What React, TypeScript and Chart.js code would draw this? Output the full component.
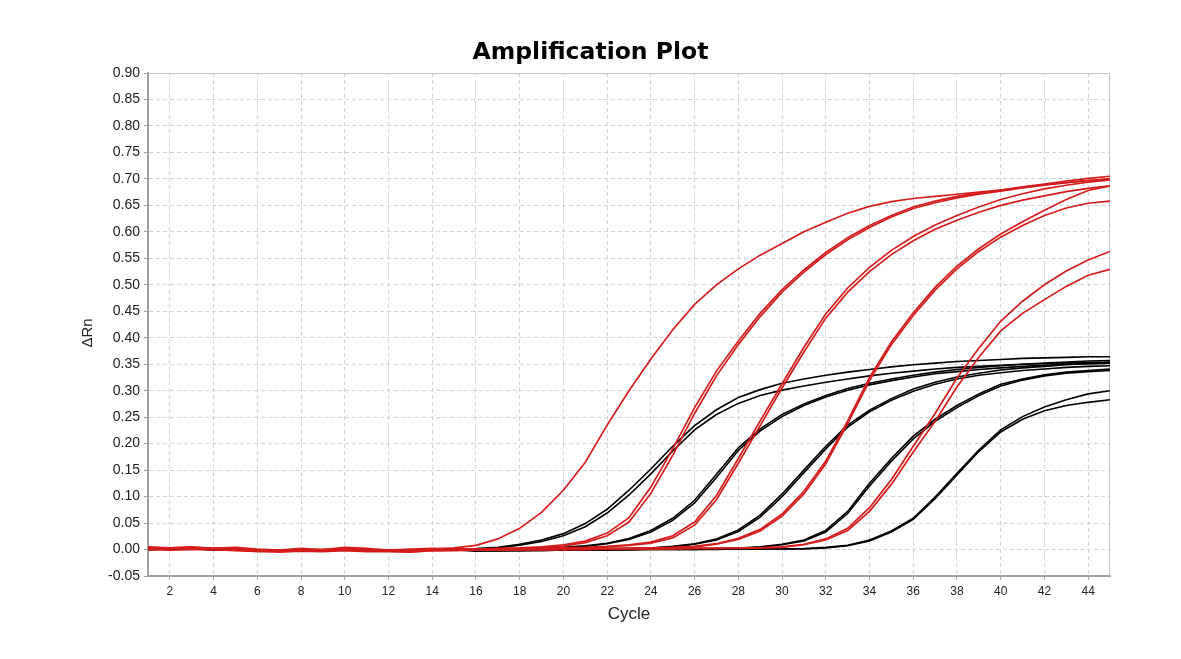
import React, { useEffect, useRef } from 'react';
import { Chart, registerables } from 'chart.js';

Chart.register(...registerables);

const CYCLES = [
  1, 2, 3, 4, 5, 6, 7, 8, 9, 10, 11, 12, 13, 14, 15, 16, 17, 18, 19, 20, 21, 22, 23,
  24, 25, 26, 27, 28, 29, 30, 31, 32, 33, 34, 35, 36, 37, 38, 39, 40, 41, 42, 43, 44, 45,
];
const X_TICKS = [2, 4, 6, 8, 10, 12, 14, 16, 18, 20, 22, 24, 26, 28, 30, 32, 34, 36, 38, 40, 42, 44];
const Y_TICKS = [
  -0.05, 0, 0.05, 0.1, 0.15, 0.2, 0.25, 0.3, 0.35, 0.4, 0.45, 0.5, 0.55, 0.6, 0.65, 0.7, 0.75, 0.8, 0.85, 0.9,
];

// ---- red samples (cycles 1..45) ----
const RED_1 = [
  0.003, 0.003, 0.004, 0.002, 0.002, -0.001, -0.001, 0.0, 0.0, 0.002, 0.0, -0.002, -0.001, 0.001, 0.003,
  0.008, 0.02, 0.04, 0.07, 0.112, 0.165, 0.235, 0.3, 0.36, 0.415,
  0.463, 0.5, 0.53, 0.556, 0.578, 0.6, 0.618, 0.635, 0.648, 0.657,
  0.663, 0.667, 0.671, 0.675, 0.679, 0.684, 0.689, 0.693, 0.697, 0.7,
];
const RED_2A = [
  0.002, 0.002, 0.003, 0.001, 0.001, -0.002, -0.002, -0.001, -0.001, 0.001, -0.001, -0.003, -0.002, 0.0, 0.0,
  0.001, 0.002, 0.003, 0.005, 0.009, 0.016, 0.031, 0.06, 0.118, 0.19,
  0.268, 0.337, 0.394, 0.446, 0.491, 0.528, 0.561, 0.589, 0.612, 0.631,
  0.647, 0.658, 0.667, 0.673, 0.679, 0.685, 0.69, 0.696, 0.701, 0.705,
];
const RED_2B = [
  0.001, 0.003, 0.002, 0.002, 0.0, -0.003, -0.001, -0.002, 0.0, 0.0, -0.002, -0.002, -0.003, -0.001, 0.001,
  0.001, 0.001, 0.002, 0.004, 0.007, 0.013, 0.026, 0.052, 0.106, 0.178,
  0.257, 0.328, 0.387, 0.44, 0.486, 0.524, 0.557, 0.585, 0.608, 0.628,
  0.644, 0.655, 0.664, 0.671, 0.677, 0.683, 0.688, 0.693, 0.697, 0.7,
];
const RED_3A = [
  0.005, 0.003, 0.005, 0.002, 0.004, 0.001, -0.001, 0.002, 0.0, 0.004, 0.002, -0.001, 0.001, 0.002, 0.001,
  0.001, 0.001, 0.001, 0.002, 0.003, 0.004, 0.006, 0.009, 0.014, 0.026,
  0.052, 0.102, 0.172, 0.243, 0.313, 0.382, 0.445, 0.494, 0.533, 0.565,
  0.591, 0.613, 0.631, 0.647, 0.661, 0.672, 0.681, 0.688, 0.694, 0.698,
];
const RED_3B = [
  0.002, 0.002, 0.002, 0.001, 0.0, -0.002, -0.002, -0.001, -0.001, 0.0, -0.001, -0.002, -0.002, 0.001, 0.0,
  0.0, 0.0, 0.001, 0.001, 0.002, 0.003, 0.005, 0.008, 0.012, 0.022,
  0.046, 0.094, 0.163, 0.234, 0.305, 0.373, 0.437, 0.486, 0.525, 0.557,
  0.583, 0.605, 0.622, 0.637, 0.65, 0.66, 0.668, 0.676, 0.682, 0.687,
];
const RED_4A = [
  0.001, 0.002, 0.003, 0.001, 0.001, -0.002, -0.002, -0.002, -0.001, 0.001, -0.001, -0.003, -0.002, -0.001, 0.0,
  0.0, 0.0, 0.0, 0.001, 0.001, 0.001, 0.002, 0.002, 0.003, 0.004,
  0.006, 0.011, 0.021, 0.038, 0.067, 0.11, 0.167, 0.243, 0.325, 0.392,
  0.447, 0.495, 0.535, 0.568, 0.596, 0.619, 0.641, 0.661, 0.678, 0.687,
];
const RED_4B = [
  0.0, -0.001, 0.0, 0.0, -0.002, -0.003, -0.005, -0.003, -0.004, -0.002, -0.004, -0.004, -0.005, -0.002, -0.002,
  -0.001, -0.001, 0.0, 0.0, 0.001, 0.001, 0.001, 0.002, 0.002, 0.003,
  0.005, 0.01, 0.019, 0.035, 0.063, 0.105, 0.162, 0.238, 0.319, 0.387,
  0.442, 0.49, 0.53, 0.563, 0.59, 0.612, 0.631, 0.645, 0.654, 0.658,
];
const RED_5A = [
  0.002, 0.003, 0.003, 0.002, 0.001, -0.002, -0.001, -0.001, -0.001, 0.001, 0.0, -0.003, -0.002, 0.0, 0.0,
  0.0, 0.0, 0.0, 0.0, 0.0, 0.001, 0.001, 0.001, 0.001, 0.002,
  0.002, 0.002, 0.003, 0.003, 0.005, 0.01, 0.02, 0.04, 0.079, 0.132,
  0.195, 0.257, 0.324, 0.38, 0.431, 0.469, 0.5, 0.526, 0.547, 0.563,
];
const RED_5B = [
  0.0, 0.001, 0.001, 0.0, -0.001, -0.004, -0.003, -0.003, -0.001, -0.001, -0.002, -0.003, -0.004, -0.002, -0.001,
  -0.001, -0.001, 0.0, 0.0, 0.0, 0.0, 0.001, 0.001, 0.001, 0.001,
  0.002, 0.002, 0.002, 0.003, 0.004, 0.009, 0.018, 0.036, 0.072, 0.123,
  0.184, 0.242, 0.307, 0.363, 0.413, 0.446, 0.472, 0.497, 0.518, 0.529,
];

// ---- black samples (cycles 1..45) ----
const BLACK_1A = [
  0.001, 0.002, 0.002, 0.001, 0.0, -0.002, -0.002, -0.001, -0.001, 0.001, -0.001, -0.002, -0.002, 0.0, 0.001,
  0.002, 0.004, 0.01, 0.018, 0.03, 0.049, 0.076, 0.112, 0.152, 0.195,
  0.234, 0.264, 0.287, 0.302, 0.314, 0.322, 0.329, 0.335, 0.34, 0.345,
  0.349, 0.352, 0.355, 0.357, 0.359, 0.361, 0.362, 0.363, 0.364, 0.364,
];
const BLACK_1B = [
  0.0, 0.002, 0.001, 0.001, -0.001, -0.002, -0.002, -0.002, -0.001, 0.0, -0.002, -0.002, -0.002, -0.001, 0.0,
  0.001, 0.003, 0.008, 0.015, 0.026, 0.043, 0.069, 0.103, 0.143, 0.186,
  0.226, 0.255, 0.276, 0.291, 0.301, 0.309, 0.316, 0.322, 0.328, 0.333,
  0.337, 0.341, 0.344, 0.346, 0.348, 0.35, 0.351, 0.352, 0.353, 0.354,
];
const BLACK_2A = [
  0.001, 0.002, 0.002, 0.0, 0.0, -0.002, -0.002, -0.001, -0.001, 0.001, -0.001, -0.002, -0.002, -0.001, 0.0,
  0.0, 0.001, 0.001, 0.002, 0.004, 0.007, 0.012, 0.021, 0.036, 0.059,
  0.093, 0.142, 0.192, 0.228, 0.255, 0.275, 0.291, 0.304, 0.314, 0.322,
  0.329, 0.335, 0.34, 0.344, 0.347, 0.35, 0.352, 0.354, 0.356, 0.357,
];
const BLACK_2B = [
  0.0, 0.001, 0.002, 0.001, -0.001, -0.002, -0.002, -0.001, -0.002, 0.0, -0.001, -0.002, -0.002, -0.001, 0.0,
  0.0, 0.0, 0.001, 0.002, 0.003, 0.006, 0.011, 0.019, 0.033, 0.055,
  0.088, 0.136, 0.187, 0.224, 0.251, 0.272, 0.288, 0.301, 0.311, 0.319,
  0.326, 0.332, 0.336, 0.34, 0.343, 0.346, 0.348, 0.35, 0.351, 0.352,
];
const BLACK_3A = [
  0.001, 0.001, 0.002, 0.0, 0.0, -0.002, -0.002, -0.002, -0.001, 0.0, -0.001, -0.002, -0.002, -0.001, -0.001,
  -0.001, -0.001, 0.0, 0.0, 0.001, 0.001, 0.002, 0.002, 0.003, 0.006,
  0.011, 0.02, 0.037, 0.065, 0.105, 0.15, 0.195, 0.235, 0.263, 0.285,
  0.303, 0.316, 0.326, 0.333, 0.339, 0.343, 0.346, 0.349, 0.351, 0.352,
];
const BLACK_3B = [
  0.0, 0.001, 0.001, 0.0, -0.001, -0.002, -0.002, -0.001, -0.002, 0.0, -0.002, -0.002, -0.002, -0.001, -0.001,
  -0.001, -0.001, -0.001, 0.0, 0.0, 0.001, 0.001, 0.002, 0.003, 0.005,
  0.01, 0.018, 0.034, 0.061, 0.1, 0.145, 0.19, 0.231, 0.26, 0.282,
  0.299, 0.312, 0.322, 0.329, 0.334, 0.338, 0.341, 0.344, 0.346, 0.347,
];
const BLACK_4A = [
  0.001, 0.002, 0.001, 0.0, -0.001, -0.002, -0.002, -0.001, -0.001, 0.001, -0.002, -0.002, -0.002, -0.001, -0.001,
  -0.002, -0.001, -0.001, -0.001, 0.0, 0.0, 0.0, 0.001, 0.001, 0.001,
  0.002, 0.002, 0.003, 0.005, 0.01, 0.018, 0.036, 0.072, 0.125, 0.172,
  0.214, 0.246, 0.272, 0.294, 0.312, 0.322, 0.33, 0.335, 0.338, 0.341,
];
const BLACK_4B = [
  0.0, 0.001, 0.002, -0.001, 0.0, -0.002, -0.001, -0.002, -0.001, 0.0, -0.001, -0.002, -0.002, -0.001, 0.0,
  -0.002, -0.002, -0.001, -0.001, -0.001, 0.0, 0.0, 0.0, 0.001, 0.001,
  0.001, 0.002, 0.002, 0.004, 0.009, 0.016, 0.033, 0.068, 0.12, 0.167,
  0.209, 0.242, 0.268, 0.291, 0.309, 0.32, 0.328, 0.333, 0.336, 0.338,
];
const BLACK_5A = [
  0.001, 0.001, 0.002, 0.001, 0.0, -0.002, -0.002, -0.001, -0.001, 0.0, -0.001, -0.002, -0.002, -0.001, -0.001,
  -0.002, -0.002, -0.002, -0.001, -0.001, -0.001, -0.001, 0.0, 0.0, 0.0,
  0.0, 0.001, 0.001, 0.001, 0.001, 0.002, 0.004, 0.008, 0.018, 0.035,
  0.059, 0.099, 0.144, 0.188, 0.226, 0.251, 0.269, 0.283, 0.294, 0.3,
];
const BLACK_5B = [
  0.0, 0.001, 0.001, 0.0, -0.001, -0.002, -0.002, -0.002, -0.002, 0.0, -0.002, -0.002, -0.002, -0.001, 0.0,
  -0.002, -0.002, -0.002, -0.002, -0.001, -0.001, -0.001, -0.001, 0.0, 0.0,
  0.0, 0.0, 0.001, 0.001, 0.001, 0.001, 0.003, 0.007, 0.016, 0.033,
  0.057, 0.096, 0.141, 0.185, 0.222, 0.246, 0.262, 0.272, 0.278, 0.283,
];

const RED_SERIES = [RED_1, RED_2A, RED_2B, RED_3A, RED_3B, RED_4A, RED_4B, RED_5A, RED_5B];
const BLACK_SERIES = [
  BLACK_1A, BLACK_1B, BLACK_2A, BLACK_2B, BLACK_3A, BLACK_3B, BLACK_4A, BLACK_4B, BLACK_5A, BLACK_5B,
];

const TITLE = 'Amplification Plot';
const Y_TITLE = 'ΔRn';
const X_TITLE = 'Cycle';

const RED = '#d41c1c';
const BLACK = '#000000';
const GRID = '#d2d2d2';
const AXIS = '#a0a0a0';
const TEXT = '#222222';

const framePlugin = {
  id: 'frameAndTitle',
  beforeDatasetsDraw(chart: any) {
    const { ctx, chartArea: a } = chart;
    ctx.save();
    ctx.strokeStyle = '#c4c4c4';
    ctx.lineWidth = 1;
    ctx.setLineDash([]);
    ctx.beginPath();
    ctx.moveTo(a.left, a.top + 0.5);
    ctx.lineTo(a.right, a.top + 0.5);
    ctx.moveTo(a.right - 0.5, a.top);
    ctx.lineTo(a.right - 0.5, a.bottom);
    ctx.stroke();
    ctx.restore();
  },
  afterDraw(chart: any) {
    const { ctx } = chart;
    ctx.save();
    ctx.fillStyle = '#000';
    ctx.font = 'bold 23.5px "DejaVu Sans"';
    ctx.textAlign = 'center';
    ctx.textBaseline = 'alphabetic';
    ctx.fillText(TITLE, chart.width / 2, 59);
    ctx.restore();

    ctx.save();
    ctx.fillStyle = TEXT;
    ctx.font = '15px "Liberation Sans", Arial, sans-serif';
    ctx.textAlign = 'center';
    ctx.textBaseline = 'middle';
    ctx.translate(88, 333);
    ctx.rotate(-Math.PI / 2);
    ctx.fillText(Y_TITLE, 0, 0);
    ctx.restore();
  },
};

export default function App() {
  const ref = useRef<HTMLCanvasElement>(null);

  useEffect(() => {
    if (!ref.current) return;
    const datasets = [
      ...RED_SERIES.map((d, i) => ({
        label: 'red ' + (i + 1),
        data: d,
        borderColor: RED,
        backgroundColor: RED,
        borderWidth: 1.7,
        pointRadius: 0,
        tension: 0,
        fill: false,
      })),
      ...BLACK_SERIES.map((d, i) => ({
        label: 'black ' + (i + 1),
        data: d,
        borderColor: BLACK,
        backgroundColor: BLACK,
        borderWidth: 1.6,
        pointRadius: 0,
        tension: 0,
        fill: false,
      })),
    ];

    const chart = new Chart(ref.current, {
      type: 'line',
      data: { labels: CYCLES, datasets },
      plugins: [framePlugin],
      options: {
        animation: false,
        responsive: false,
        devicePixelRatio: 1,
        layout: { padding: { left: 0, right: 71, top: 73, bottom: 0 } },
        plugins: {
          legend: { display: false },
          title: { display: false },
          tooltip: { enabled: false },
        },
        scales: {
          x: {
            type: 'linear',
            min: 1,
            max: 45,
            afterBuildTicks: (s: any) => {
              s.ticks = X_TICKS.map((value) => ({ value }));
            },
            afterFit: (s: any) => {
              s.height = 83;
            },
            ticks: {
              autoSkip: false,
              maxRotation: 0,
              padding: 4,
              color: TEXT,
              font: { family: '"Liberation Sans", Arial, sans-serif', size: 12 },
              callback: (v: any) => String(v),
            },
            grid: {
              color: GRID,
              lineWidth: 1,
              tickColor: AXIS,
              tickLength: 4,
              tickWidth: 1,
              tickBorderDash: [],
            },
            border: { color: AXIS, width: 2, dash: [4, 3] },
            title: {
              display: true,
              text: X_TITLE,
              color: TEXT,
              font: { family: '"Liberation Sans", Arial, sans-serif', size: 17 },
              padding: { top: 0, bottom: 34 },
            },
          },
          y: {
            type: 'linear',
            min: -0.05,
            max: 0.9,
            afterBuildTicks: (s: any) => {
              s.ticks = Y_TICKS.map((value) => ({ value }));
            },
            afterFit: (s: any) => {
              s.width = 148;
            },
            ticks: {
              autoSkip: false,
              padding: 4,
              color: TEXT,
              font: { family: '"Liberation Sans", Arial, sans-serif', size: 14 },
              callback: (v: any) => Number(v).toFixed(2),
            },
            grid: {
              color: GRID,
              lineWidth: 1,
              tickColor: AXIS,
              tickLength: 4,
              tickWidth: 1,
              tickBorderDash: [],
            },
            border: { color: AXIS, width: 2, dash: [4, 3] },
            title: { display: false },
          },
        },
      },
    } as any);

    return () => chart.destroy();
  }, []);

  return (
    <div
      style={{
        position: 'absolute',
        left: 0,
        top: 0,
        width: 1181,
        height: 659,
        background: '#ffffff',
      }}
    >
      <canvas ref={ref} width={1181} height={659} style={{ display: 'block', width: 1181, height: 659 }} />
    </div>
  );
}
